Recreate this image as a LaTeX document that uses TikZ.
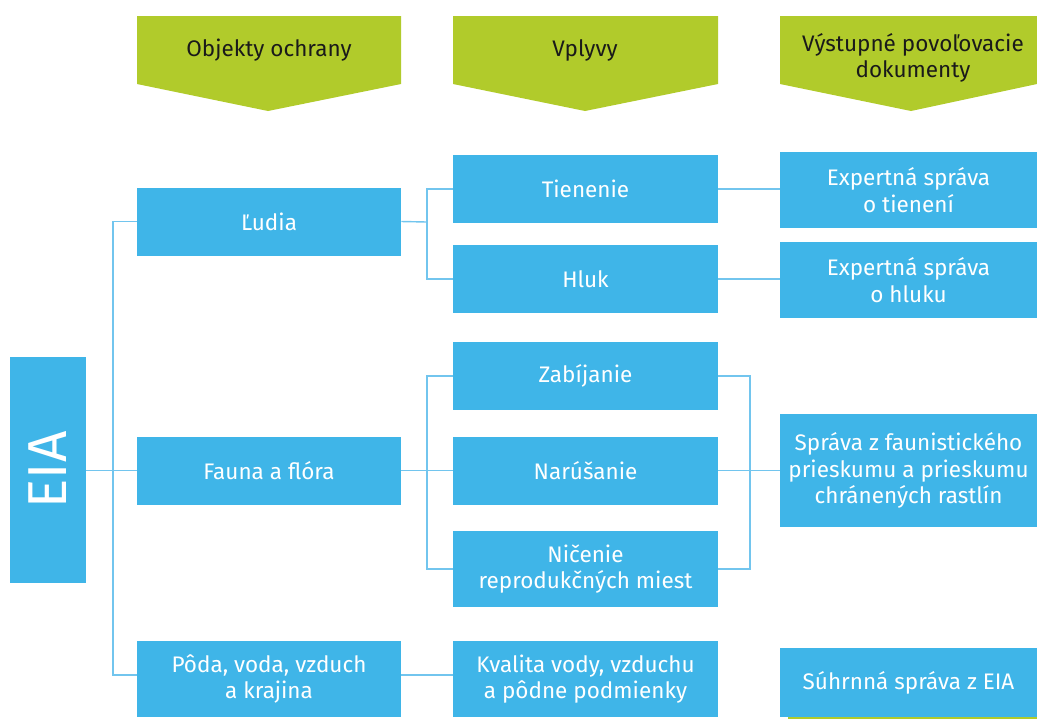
\documentclass[tikz,border=0pt]{standalone}
\usepackage{fontspec}
\setmainfont{Fira Sans}
\definecolor{mgreen}{HTML}{B1CB2B}
\definecolor{mbox}{HTML}{3FB5E8}
\definecolor{mline}{HTML}{72C5EE}
\definecolor{mtext}{HTML}{1A1A1A}
\usetikzlibrary{calc}

\begin{document}
\begin{tikzpicture}[x=0.025cm, y=-0.025cm,
    box/.style={fill=mbox, text=white, inner sep=0pt, align=center,
                font=\fontsize{16}{19}\selectfont},
    objbox/.style={box, minimum width=6.6cm},
    impbox/.style={box, minimum width=6.625cm},
    docbox/.style={box, minimum width=6.425cm},
    head/.style={text=mtext, align=center, font=\fontsize{16}{19}\selectfont},
    link/.style={draw=mline, line width=1pt}]
    % Fix the page size
    \useasboundingbox (0,0) rectangle (1037,719);

    % Draw the green column headers
    \fill[mgreen] (137,16) -- (401,16) -- (401,84) -- (268,111) -- (137,84) -- cycle;
    \fill[mgreen] (453,16) -- (718,16) -- (718,84) -- (585,111) -- (453,84) -- cycle;
    \fill[mgreen] (780,16) -- (1037,16) -- (1037,84) -- (911,111) -- (780,84) -- cycle;
    \node[head] (hobj) at (269,50) {Objekty ochrany};
    \node[head] (himp) at (585,50) {Vplyvy};
    \node[head] (hdoc) at (913,58) {Výstupné povoľovacie\\dokumenty};

    % Strip under the last document
    \fill[mgreen] (788,716) rectangle (1037,719);

    % Root node
    \node[box, minimum width=1.9cm, minimum height=5.65cm] (eia) at (48,470)
        {\rotatebox{90}{\fontsize{39}{39}\selectfont EIA}};

    % Protected objects
    \node[objbox, minimum height=1.7cm] (ludia) at (269,221.5) {Ľudia};
    \node[objbox, minimum height=1.7cm] (fauna) at (269,470.5) {Fauna a flóra};
    \node[objbox, minimum height=1.9cm] (poda) at (269,679) {Pôda, voda, vzduch\\a krajina};

    % Impacts
    \node[impbox, minimum height=1.7cm] (tien) at (585.5,189) {Tienenie};
    \node[impbox, minimum height=1.7cm] (hluk) at (585.5,279) {Hluk};
    \node[impbox, minimum height=1.7cm] (zabij) at (585.5,376) {Zabíjanie};
    \node[impbox, minimum height=1.7cm] (narus) at (585.5,470.5) {Narúšanie};
    \node[impbox, minimum height=1.9cm] (nicen) at (585.5,569) {Ničenie\\reprodukčných miest};
    \node[impbox, minimum height=1.9cm] (kval) at (585.5,679) {Kvalita vody, vzduchu\\a pôdne podmienky};

    % Output documents
    \node[docbox, minimum height=1.9cm] (exptien) at (908.5,190) {Expertná správa\\o tienení};
    \node[docbox, minimum height=1.9cm] (exphluk) at (908.5,280) {Expertná správa\\o hluku};
    \node[docbox, minimum height=2.825cm] (sprava) at (908.5,470.5) {Správa z faunistického\\prieskumu a prieskumu\\chránených rastlín};
    \node[docbox, minimum height=1.725cm] (suhrn) at (908.5,682.5) {Súhrnná správa z EIA};

    % Branch points
    \coordinate (trunk) at (113,470.5);
    \coordinate (jlud) at (427,222);
    \coordinate (jfau) at (427,470.5);
    \coordinate (jdoc) at (750,470.5);

    % Connectors
    \draw[link] (eia.east |- fauna.west) -- (fauna.west);
    \draw[link] (ludia.west) -| (trunk) |- ($(poda.west)+(0,-4)$);
    \draw[link] (ludia.east) -- (jlud);
    \draw[link] (tien.west) -| (jlud) |- (hluk.west);
    \draw[link] (fauna.east) -- (narus.west);
    \draw[link] (zabij.west) -| (jfau) |- (nicen.west);
    \draw[link] ($(poda.east)+(0,-4)$) -- ($(kval.west)+(0,-4)$);
    \draw[link] (tien.east) -- (tien.east -| exptien.west);
    \draw[link] (hluk.east) -- (hluk.east -| exphluk.west);
    \draw[link] (zabij.east) -| (jdoc) |- (nicen.east);
    \draw[link] (narus.east) -- (sprava.west);
\end{tikzpicture}
\end{document}
